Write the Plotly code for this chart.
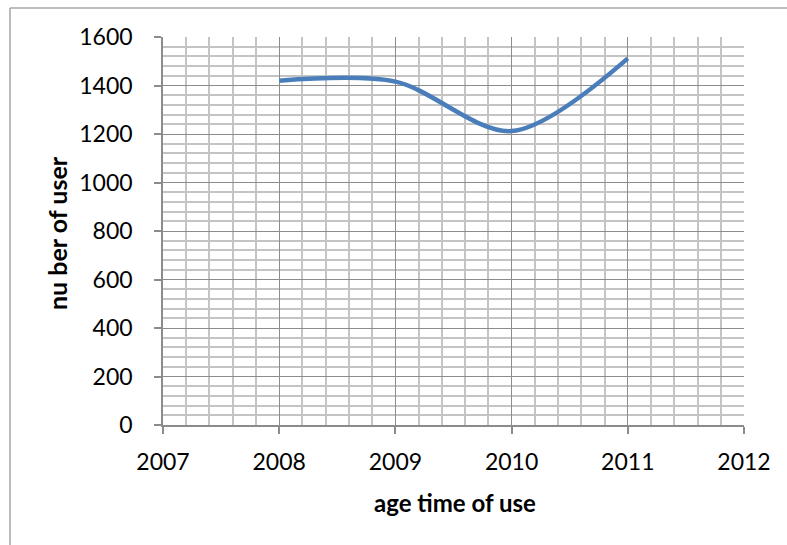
import plotly.graph_objects as go

# Yearly user counts
years = [2008, 2009, 2010, 2011]
users = [1420, 1416, 1212, 1512]

x_range = [2007, 2012]
y_range = [0, 1600]

W, H = 787, 545
L, R, T, B = 163, 43, 37, 120
pw, ph = W - L - R, H - T - B

font_family = "Lato, 'Open Sans', sans-serif"
major_grid = "#8C8C8C"
minor_grid = "#C4C4C4"

fig = go.Figure()
fig.add_trace(go.Scatter(
    x=years, y=users, mode="lines",
    line=dict(color="#4A7EBB", width=4.5, shape="spline", smoothing=0.9),
    hoverinfo="x+y", showlegend=False,
))

axis_common = dict(
    showgrid=True, gridcolor=major_grid, gridwidth=1,
    showline=True, linecolor=major_grid, linewidth=1.5,
    ticks="outside", ticklen=7, tickcolor=major_grid, tickwidth=1.5,
    tickfont=dict(family=font_family, size=23, color="#000000"),
    zeroline=False, fixedrange=True,
)

fig.update_xaxes(
    range=x_range, dtick=1, tick0=2007, tickformat="d",
    minor=dict(dtick=0.2, showgrid=True, gridcolor=minor_grid, gridwidth=1.5,
               ticks="", ticklen=0),
    ticklabelstandoff=9, mirror=False,
    **axis_common,
)
fig.update_yaxes(
    range=y_range, dtick=200, tick0=0,
    minor=dict(dtick=40, showgrid=True, gridcolor=minor_grid, gridwidth=1.5,
               ticks="", ticklen=0),
    ticklabelstandoff=17,
    **axis_common,
)

def px_x(p):
    return (p - L) / pw

def px_y(p):
    return (H - B - p) / ph

fig.update_layout(
    width=W, height=H,
    margin=dict(l=L, r=R, t=T, b=B),
    paper_bgcolor="white", plot_bgcolor="white",
    annotations=[
        dict(text="<b>age time of use</b>", x=px_x(455), y=px_y(502),
             xref="paper", yref="paper", showarrow=False,
             xanchor="center", yanchor="middle",
             font=dict(family=font_family, size=24, color="#000000")),
        dict(text="<b>nu ber of user</b>", x=px_x(57), y=px_y(233),
             xref="paper", yref="paper", showarrow=False, textangle=-90,
             xanchor="center", yanchor="middle",
             font=dict(family=font_family, size=25, color="#000000")),
    ],
    shapes=[
        dict(type="line", xref="paper", yref="paper",
             x0=px_x(10), y0=px_y(8), x1=px_x(790), y1=px_y(8),
             line=dict(color="#A6A6A6", width=1.5)),
        dict(type="line", xref="paper", yref="paper",
             x0=px_x(10), y0=px_y(8), x1=px_x(10), y1=px_y(550),
             line=dict(color="#A6A6A6", width=1.5)),
    ],
)

fig.write_html("out.html")
